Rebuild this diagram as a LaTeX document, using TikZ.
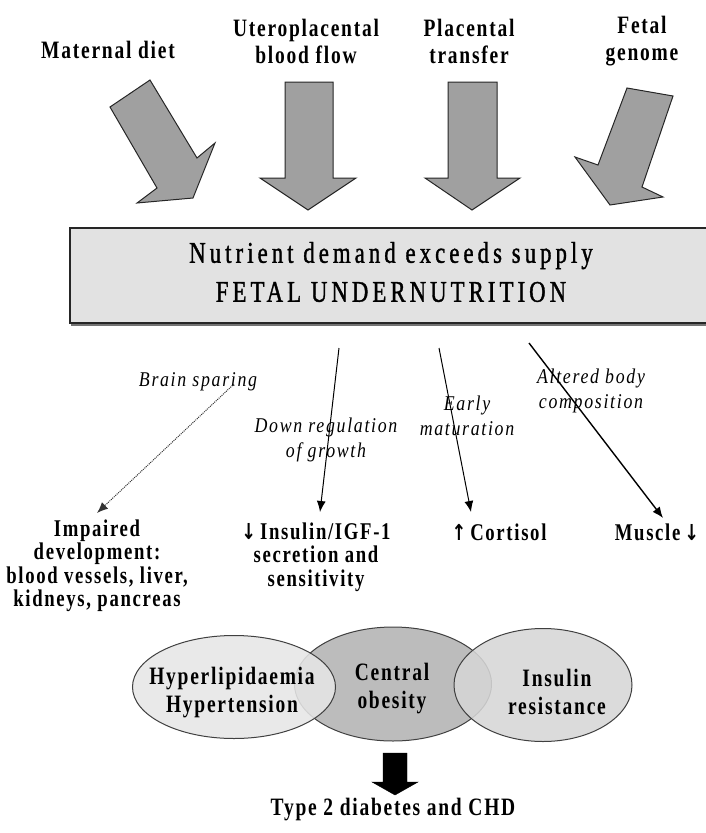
\documentclass[tikz,border=0pt]{standalone}
\usepackage{fontspec}
\setmainfont{Liberation Serif}
\newfontfamily\labfont[FakeStretch=0.78,LetterSpace=7]{Liberation Serif}
\newfontfamily\boxfont[FakeStretch=0.76,LetterSpace=13.5,FakeBold=1.2]{Liberation Serif}
\newfontfamily\itfont[FakeStretch=0.85,LetterSpace=8]{Liberation Serif}
\newfontfamily\arrfont[FakeStretch=0.8]{DejaVu Sans}
\usetikzlibrary{arrows.meta,shapes.geometric}
\definecolor{arrowgray}{RGB}{160,160,160}
\definecolor{boxgray}{RGB}{226,226,226}
\definecolor{ellL}{RGB}{230,230,230}
\definecolor{ellM}{RGB}{188,188,188}
\definecolor{ellR}{RGB}{214,214,214}
\newcommand\arrsym[1]{{\arrfont\bfseries\fontsize{22}{23.5}\selectfont #1}}
\begin{document}
\begin{tikzpicture}[x=1pt,y=-1pt,
  lab/.style={font=\labfont\bfseries\fontsize{25}{27}\selectfont,align=center,inner sep=0pt},
  outlab/.style={font=\labfont\bfseries\fontsize{24}{23.5}\selectfont,align=center,inner sep=0pt},
  itlab/.style={font=\itfont\itshape\fontsize{21}{25}\selectfont,align=center,inner sep=0pt},
  ell/.style={ellipse,draw=black!75,line width=1pt,inner sep=0pt,align=center,
     font=\labfont\bfseries\fontsize{25}{28}\selectfont,text opacity=1},
  bigarrow/.style={fill=arrowgray,draw=black!85,line width=1pt,line join=miter},
  conn/.style={-{Latex[length=11pt,width=9pt]},line width=1pt,draw=black},
]
\useasboundingbox (0,0) rectangle (705,833);

% top labels
\node[lab] (mat) at (108,50) {Maternal diet};
\node[lab] (utero) at (306,41) {Uteroplacental\\blood flow};
\node[lab] (plac) at (469,41) {Placental\\transfer};
\node[lab] (fetal) at (642,41) {Fetal\\genome};

% block arrows
\draw[bigarrow] (110,107) -- (150,80) -- (197,158) -- (215,143) -- (193,198) -- (137,203) -- (157,188) -- cycle;
\draw[bigarrow] (285,82) -- (333,82) -- (333,178) -- (356,178) -- (308,210) -- (260,178) -- (285,178) -- cycle;
\draw[bigarrow] (448,82) -- (497,82) -- (497,178) -- (520,178) -- (472,210) -- (425,178) -- (448,178) -- cycle;
\draw[bigarrow] (627,88) -- (673,96) -- (642,187) -- (663,197) -- (610,205) -- (575,157) -- (598,165) -- cycle;

% main box
\draw[black!55,line width=2.5pt] (71,325) -- (707,325);
\node[draw=black!85,fill=boxgray,line width=1.2pt,minimum width=637pt,minimum height=95pt,inner sep=0pt] (box) at (388.5,275.5) {};
\node[align=center,inner sep=0pt,font=\boxfont\fontsize{30}{39}\selectfont] (boxtxt) at (391,272)
  {Nutrient demand exceeds supply\\FETAL UNDERNUTRITION};

% italic labels
\node[itlab] (brain) at (198,382) {Brain sparing};
\node[itlab] (down) at (326,440) {Down regulation\\of growth};
\node[itlab] (early) at (467,416) {Early\\maturation};
\node[itlab] (altered) at (591,391) {Altered body\\composition};

% outcomes
\node[outlab] (imp) at (97,566) {Impaired\\development:\\blood vessels, liver,\\kidneys, pancreas};
\node[outlab] (ins) at (316,557) {\arrsym{↓}\,Insulin/IGF-1\\secretion and\\sensitivity};
\node[outlab] (cort) at (499,532) {\arrsym{↑}\,Cortisol};
\node[outlab] (musc) at (657,532) {Muscle\,\arrsym{↓}};

% connectors
\coordinate (s1) at (234,384);
\coordinate (e1) at (97,513);
\coordinate (s2) at (339,348);
\coordinate (e2) at (320,512);
\coordinate (s3) at (439,348);
\coordinate (e3) at (471,512);
\coordinate (s4) at (529,343);
\coordinate (e4) at (663,518);
\draw[conn,densely dotted,draw=black!80] (s1) -- (e1);
\draw[conn] (s2) -- (e2);
\draw[conn] (s3) -- (e3);
\draw[conn,line width=1.4pt] (s4) -- (e4);

% ellipses
\node[ell,fill=ellM,minimum width=197pt,minimum height=114pt] (cen) at (393,684) {};
\node[ell,fill=ellL,fill opacity=0.88,minimum width=203pt,minimum height=103pt] (hyp) at (234,687) {};
\node[ell,fill=ellR,fill opacity=0.88,minimum width=178pt,minimum height=113pt] (res) at (543,685) {};
\node[ell,draw=none] (hyptxt) at (232,693) {Hyperlipidaemia\\Hypertension};
\node[ell,draw=none] (centxt) at (392,689) {Central\\obesity};
\node[ell,draw=none] (restxt) at (557,692) {Insulin\\resistance};

% bottom arrow and outcome
\draw[fill=black,draw=black,line join=miter] (383,753) -- (407,753) -- (407,782) -- (418,782) -- (395,795) -- (372,782) -- (383,782) -- cycle;
\node[lab] (t2d) at (393,810) {Type 2 diabetes and CHD};
\end{tikzpicture}
\end{document}
